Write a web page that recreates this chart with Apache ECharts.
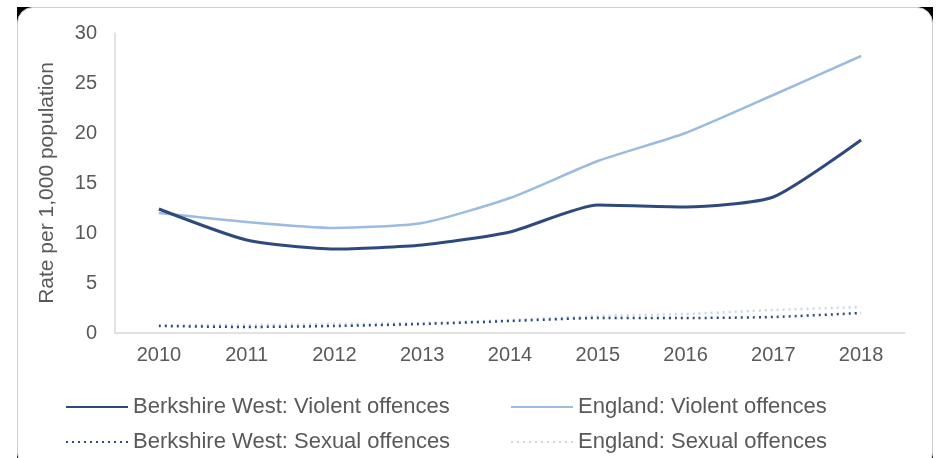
<!DOCTYPE html>
<html>
<head>
<meta charset="utf-8">
<script src="https://cdn.jsdelivr.net/npm/echarts@6/dist/echarts.min.js"></script>
<style>
  html, body { margin: 0; padding: 0; background: #ffffff; }
  #frame { position: absolute; left: 17px; top: 7px; width: 916px; height: 462px; background: #000; }
  #card { position: absolute; left: 0; top: 0; right: 0; bottom: 0; background: #fff; border: 1px solid #cfcfcf; border-radius: 16px; box-sizing: border-box; }
  #chart { position: absolute; left: 0; top: 0; width: 939px; height: 458px; }
</style>
</head>
<body>
<div id="frame"><div id="card"></div></div>
<div id="chart"></div>
<script>
// Years shown along the x axis
const years = ['2010', '2011', '2012', '2013', '2014', '2015', '2016', '2017', '2018'];

// Recorded offences, rate per 1,000 population
const berkshireViolent = [12.4, 9.3, 8.4, 8.8, 10.1, 12.8, 12.6, 13.6, 19.3];
const englandViolent   = [12.0, 11.1, 10.5, 11.0, 13.5, 17.2, 20.0, 23.8, 27.7];
const berkshireSexual  = [0.7, 0.6, 0.7, 0.9, 1.2, 1.5, 1.5, 1.6, 2.0];
const englandSexual    = [0.8, 0.8, 0.9, 1.0, 1.3, 1.7, 1.9, 2.3, 2.6];

// Y axis range
const yMin = 0, yMax = 30, yStep = 5;

const names = [
  'Berkshire West: Violent offences',
  'England: Violent offences',
  'Berkshire West: Sexual offences',
  'England: Sexual offences'
];

const navy = '#2e4a7d';
const light = '#9bbbe0';
const faint = '#c8d8ec';
const textColor = '#595959';
const font = '"Liberation Sans", Arial, sans-serif';

const chart = echarts.init(document.getElementById('chart'));

// One legend entry per slot, laid out in two rows of two
function legendAt(name, left, top) {
  return {
    data: [name], left: left, top: top, padding: 0,
    itemWidth: 62, itemHeight: 14, itemGap: 6,
    itemStyle: { opacity: 0 },
    textStyle: { color: textColor, fontSize: 22, fontFamily: font },
    selectedMode: false
  };
}

chart.setOption({
  animation: false,
  grid: { left: 115, right: 34, top: 33, bottom: 125 },
  legend: [
    legendAt(names[0], 65, 396),
    legendAt(names[1], 510, 396),
    legendAt(names[2], 65, 431),
    legendAt(names[3], 510, 431)
  ],
  xAxis: {
    type: 'category',
    data: years,
    boundaryGap: true,
    axisLine: { lineStyle: { color: '#d9d9d9', width: 1.5 } },
    axisTick: { show: false },
    axisLabel: { color: textColor, fontSize: 20, fontFamily: font, margin: 12 }
  },
  yAxis: {
    type: 'value',
    min: yMin, max: yMax, interval: yStep,
    name: 'Rate per 1,000 population',
    nameLocation: 'middle',
    nameGap: 57,
    nameTextStyle: { color: textColor, fontSize: 21, fontFamily: font },
    axisLine: { show: true, lineStyle: { color: '#d9d9d9', width: 1.5 } },
    axisTick: { show: false },
    splitLine: { show: false },
    axisLabel: { color: textColor, fontSize: 20, fontFamily: font, margin: 18 }
  },
  series: [
    {
      name: names[0], type: 'line', data: berkshireViolent,
      smooth: 0.2, showSymbol: false, symbol: 'none',
      lineStyle: { color: navy, width: 3 }, itemStyle: { color: navy }, z: 4
    },
    {
      name: names[1], type: 'line', data: englandViolent,
      smooth: 0.2, showSymbol: false, symbol: 'none',
      lineStyle: { color: light, width: 2.5 }, itemStyle: { color: light }, z: 3
    },
    {
      name: names[2], type: 'line', data: berkshireSexual,
      smooth: 0.2, showSymbol: false, symbol: 'none',
      lineStyle: { color: navy, width: 2.5, type: [2, 4] }, itemStyle: { color: navy }, z: 4
    },
    {
      name: names[3], type: 'line', data: englandSexual,
      smooth: 0.2, showSymbol: false, symbol: 'none',
      lineStyle: { color: faint, width: 2.5, type: [2, 4] }, itemStyle: { color: faint }, z: 3
    }
  ]
});
</script>
</body>
</html>
